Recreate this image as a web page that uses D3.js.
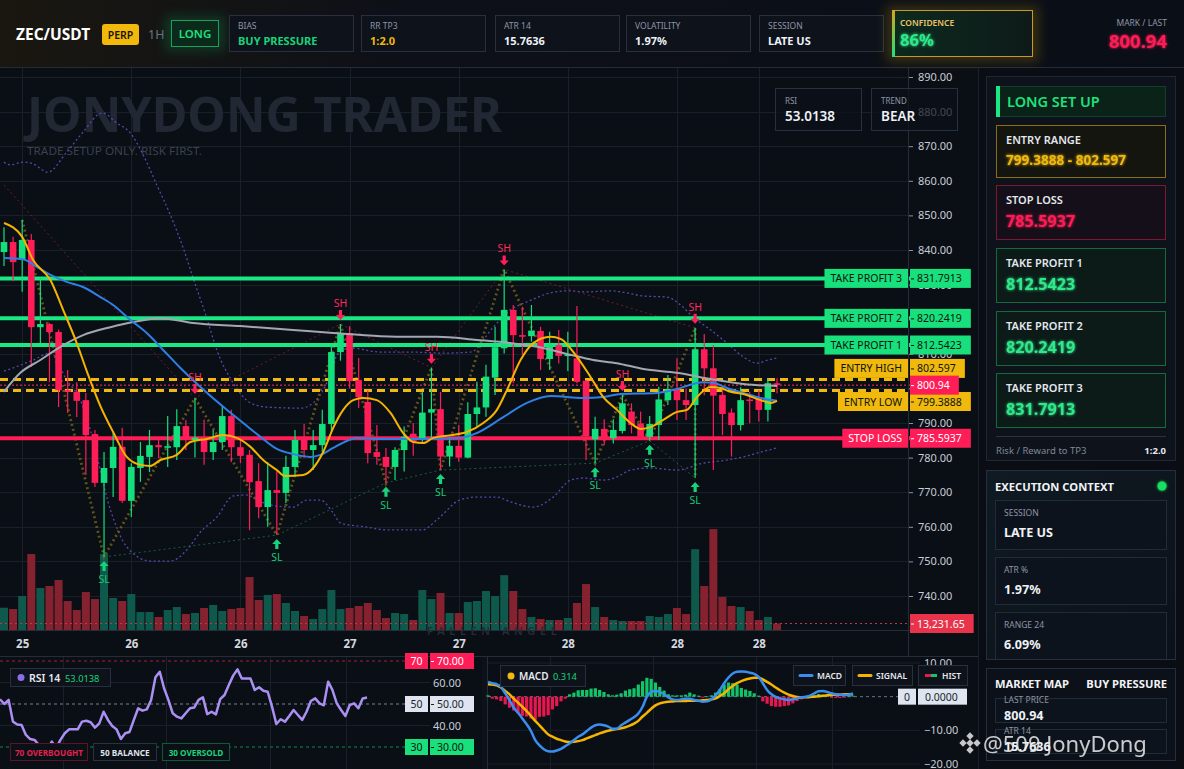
<!DOCTYPE html>
<html>
<head>
<meta charset="utf-8">
<script src="https://cdn.jsdelivr.net/npm/d3@7"></script>
<style>
  html, body { margin:0; padding:0; background:#0a0e15; overflow:hidden; }
  text { font-family: "Noto Sans", "Open Sans", sans-serif; }
</style>
</head>
<body>
<script>
// ---------------- data ----------------
// candles: open, high, low, close
var ohlc = [
  [839.4,846.6,835.4,842.3],[842.3,843.8,831.0,836.5],[837.1,848.7,827.9,842.9],[842.9,844.6,806.2,817.7],
  [817.7,832.2,813.1,818.6],[818.6,818.9,801.8,816.3],[816.3,817.0,794.6,799.5],[799.5,805.3,792.9,799.0],
  [799.0,801.8,791.7,796.4],[796.6,798.7,775.0,786.5],[786.8,788.0,771.5,772.7],[772.7,781.6,751.3,777.0],
  [777.0,787.1,768.6,783.1],[783.1,788.6,766.9,767.5],[767.5,778.4,762.8,777.3],[777.0,784.5,773.0,780.5],
  [780.2,788.0,775.8,783.6],[783.6,786.0,779.9,783.0],[783.0,792.0,777.3,783.3],[783.0,794.0,779.3,789.1],
  [789.1,790.9,782.2,785.1],[785.1,797.2,780.0,785.8],[785.8,791.0,777.9,781.6],[781.6,788.0,779.3,784.5],
  [784.5,795.2,782.2,792.0],[792.0,793.8,778.7,783.0],[783.0,786.0,778.4,780.5],[780.8,782.2,759.0,772.9],
  [773.2,778.4,762.5,765.7],[765.7,778.7,760.0,770.6],[770.6,776.4,757.6,769.8],[769.8,780.5,766.9,777.3],
  [777.3,788.0,774.6,785.1],[785.7,789.7,779.9,782.2],[782.2,788.0,776.4,783.6],[783.6,793.8,781.6,789.7],
  [789.7,813.0,787.5,810.5],[810.5,818.6,808.0,816.0],[816.0,818.0,800.0,802.1],[802.4,808.8,794.3,797.5],
  [796.1,799.5,778.4,781.3],[781.6,789.4,777.9,780.2],[780.2,782.8,772.7,777.3],[777.3,783.0,773.5,782.2],
  [782.2,789.0,776.0,786.0],[786.9,790.0,780.5,784.6],[785.6,799.0,784.1,793.0],[793.0,806.0,785.5,794.0],
  [794.0,799.0,776.4,780.3],[780.3,786.0,777.4,783.4],[783.4,789.4,778.8,780.0],[780.0,796.0,779.8,792.6],
  [792.6,801.9,788.9,794.5],[794.5,806.8,791.8,803.4],[803.1,817.8,798.1,811.9],[811.6,834.4,810.1,822.7],
  [822.7,824.1,801.5,815.4],[815.4,823.6,809.7,815.2],[815.1,824.1,813.5,816.7],[816.6,817.8,805.3,808.5],
  [808.5,816.4,805.3,812.8],[812.5,816.9,807.2,809.4],[809.4,816.4,805.0,809.8],[808.7,823.8,801.5,801.9],
  [802.2,802.4,779.3,786.2],[785.3,791.8,778.4,788.3],[788.3,791.1,783.6,785.6],[785.6,791.1,784.1,788.0],
  [787.7,798.1,787.0,795.7],[793.3,795.7,787.0,789.4],[789.9,793.3,785.1,786.0],[786.0,792.0,784.9,789.7],
  [789.4,800.5,785.1,796.8],[796.6,803.9,795.2,799.7],[799.7,808.7,790.9,796.6],[796.6,800.0,790.9,795.2],
  [795.2,817.5,774.1,811.3],[811.3,815.7,798.0,805.8],[805.8,812.5,776.4,797.9],[798.1,800.5,786.5,792.6],
  [793.0,794.2,780.3,789.4],[789.4,800.3,787.8,796.6],[796.8,799.0,789.9,796.5],[797.1,799.5,790.4,793.8],
  [793.8,802.9,790.4,801.5],[801.5,802.9,798.6,800.94]
];
// volume, thousands
var volK = [45.5,42.8,69.4,155,85.7,89.8,102,59.2,40.8,77.5,63.2,155,65.3,59.2,73.4,36.7,36.7,26.5,40.8,46.9,
  32.6,34.7,44.9,51,38.8,42.8,44.9,108,61.2,71.4,73.4,55.1,38.8,28.6,22.4,42.8,81.6,42.8,44.9,49,
  55.1,40.8,24.5,34.7,32.6,20.4,81.6,63.2,75.5,34.7,34.7,57.1,59.2,79.6,69.4,112,79.6,42.8,26.5,22.4,
  20.4,20.4,24.5,55.1,93.8,46.9,26.5,20.4,18.4,18.4,18.4,28.6,26.5,32.6,44.9,32.6,165,89.8,206,67.3,
  49,46.9,38.8,20.4,26.5,13.23165];

// overlay lines: [candle index, price]
var emaFast = [[0,847.8],[2,843.8],[3.2,837.1],[5.1,831.3],[6.5,822.7],[8,813.1],[9.1,805],[10.6,794.9],[12,787.4],
  [13.5,780.2],[15,777.9],[16.1,777.6],[17.2,779.3],[19,780.8],[20.5,784.5],[22.3,785.4],[24.1,786.5],[25.6,785.7],
  [27.1,783.1],[28.5,779.3],[30,776.4],[30.9,774.7],[32.9,775],[34,777],[35.1,781.6],[36.2,788.6],[37.3,793.8],
  [38.4,796.6],[39.5,797.2],[41,796.6],[42.5,792.9],[43.9,787.1],[45,784.5],[46.1,784.2],[47.2,785.7],[49.1,786.5],
  [50.9,787.4],[52.7,790],[54.2,793.8],[55.3,799.5],[56.8,808.2],[58.2,813.1],[60.1,814.9],[61.2,814.3],[63,809.1],
  [64.5,803.3],[65.9,797.5],[67.4,793.8],[68.9,790],[70,788.3],[71.1,788.8],[72.5,790.9],[74,793.2],[75.1,793.8],
  [76.2,797.5],[77.7,800.4],[78.8,800.1],[79.9,799],[81.3,798.4],[83.2,796.6],[84.3,795.8],[85,796.4]];
var emaSlow = [[0,837.7],[2,837.4],[3.6,835.1],[5.1,832.8],[6.9,830.8],[8.7,829.3],[10.6,826.4],[12,824.1],[13.9,819.8],
  [15.7,816],[17.5,811.1],[19.4,805.9],[21.6,800.4],[24.5,793.8],[26.3,790],[28.2,786],[30,782.5],[31.8,781],
  [33.7,780.2],[34.8,780.8],[36.2,782.8],[37.7,784.8],[38.8,785.7],[41.7,785.4],[45.8,785.4],[50.2,785.7],[52,787.1],
  [54.9,791.7],[57.5,795.8],[60.1,797.8],[63.7,797.2],[65.9,797.5],[67.8,798.4],[71.8,798.7],[74,799.8],[75.8,801.3],
  [76.9,801.8],[78,801.6],[79.5,800.1],[81.3,798.7],[83.2,797.2],[85,796.4]];
var maLong = [[0,799],[1.8,804.5],[4,808.2],[6.2,812],[8.7,815.4],[11.7,817.7],[14.2,819.2],[17.2,820.3],[20.8,818.9],
  [26,818],[31.8,816.9],[36.2,816],[41.4,815.1],[44.7,814.9],[47.6,814.9],[52,814],[55.7,813.1],[59.3,811.7],
  [62.3,809.7],[64.8,808.2],[67.4,807.3],[70.3,805.6],[74,804.5],[77.7,802.7],[81.3,801.3],[85,800.7]];
var bbUpper = [[0,865.4],[0.7,864.6],[2.1,865.4],[3.2,864.9],[4.8,862.5],[6.9,868.3],[8.7,874.1],[10.8,879.6],[12.4,876.7],
  [13.9,873.8],[15.3,867.5],[16.8,858.8],[18.3,850.1],[19.7,840.6],[20.8,831.9],[22.3,820.3],[23.4,811.1],[25.2,801.6],
  [27.1,795.8],[28.9,794.6],[32.6,794.3],[34,795.8],[35.5,801.6],[36.2,806.2],[36.6,809.7],[38.1,811.7],[41.4,810.5],
  [44.7,810.5],[48.3,810.2],[51.3,810.5],[53.8,817.7],[55.7,822.7],[57.5,825],[60.1,827.6],[61.9,828.2],[64.1,827.9],
  [66.7,828.2],[68.5,827.6],[70.3,826.7],[72.9,826.4],[74.4,824.1],[75.8,820.6],[77.7,816.9],[79.5,813.1],[81.3,809.1],
  [82.8,807.3],[84,808.2],[85,808.8]];
var bbLower = [[0,805],[1,805.9],[3.2,808.2],[5.1,810.2],[6.9,802.4],[8.4,796.6],[9.5,788],[11.7,764.9],[13.5,754.2],
  [16.1,750.1],[18.3,750.1],[20.1,753.3],[21.6,758.5],[23.4,762.8],[25.2,768.9],[26.7,769.2],[28.2,767.2],[30,766],
  [31.8,765.7],[33.3,767.7],[34.8,767.7],[36.2,764],[37,761.1],[39.9,759.9],[42.1,759.1],[46,759.1],[47.6,762],
  [50.1,767.7],[52,768.6],[54.2,768.6],[55.7,767.2],[58.2,765.7],[60.4,768.6],[62.3,773.5],[63.7,774.1],[65.9,773.5],
  [67.4,774.4],[68.9,776.4],[71.1,777],[74,776.4],[76.9,778.4],[79.5,779.3],[81.3,780.2],[83.2,781.6],[85,782.8]];

var swingHighs = [21, 37, 47, 55, 68, 76];
var swingLows = [11, 30, 42, 48, 65, 71, 76];
var zigzag = [[2,"h"],[11,"l"],[21,"h"],[30,"l"],[37,"h"],[42,"l"],[47,"h"],[48,"l"],[55,"h"],[65,"l"],[68,"h"],[71,"l"],[76,"h"],[76,"l"]];
var resistStart = [0, 858.8];

var levelNames = ["TAKE PROFIT 3","TAKE PROFIT 2","TAKE PROFIT 1","ENTRY HIGH","ENTRY LOW","STOP LOSS"];
var levelPrices = [831.7913, 820.2419, 812.5423, 802.597, 799.3888, 785.5937];
var levelText = ["831.7913","820.2419","812.5423","802.597","799.3888","785.5937"];
var lastPrice = 800.94;
var lastVolK = 13.23165;

var priceTicks = [890,880,870,860,850,840,830,820,810,800,790,780,770,760,750,740];
var timeTickIdx = [2,14,26,38,50,62,74,83];
var timeTickLabels = ["25","26","26","27","27","28","28","28"];
var subGridIdx = [14.5, 38.5, 62.5, 80.2];

var rsi = [52.2,50.0,51.9,41.8,40.5,40.2,35.6,33.7,33.3,30.9,26.7,28.9,32.5,29.4,33.3,36.4,38.2,38.2,38.2,41.8,
  42.2,41.5,39.0,41.0,46.4,42.6,39.8,38.2,33.7,36.4,37.0,42.6,48.0,46.9,47.5,51.9,62.4,65.0,57.3,51.9,
  45.7,44.1,43.3,45.7,48.0,48.4,51.9,53.1,45.3,46.4,45.2,52.3,54.2,58.8,63.2,66.1,61.9,61.9,61.9,56.5,
  57.8,56.2,55.7,48.8,40.7,42.9,41.8,44.4,47.2,44.9,42.6,46.4,51.4,52.6,50.3,49.4,60.4,56.5,50.3,47.2,
  44.4,49.5,50.3,48.0,52.6,53.0138];
var macd = [4.4,4.0,3.7,2.9,1.0,-1.0,-3.3,-4.8,-6.5,-8.2,-10.2,-12.9,-14.5,-15.6,-16.2,-16.3,-16.0,-15.5,-14.7,-13.9,
  -12.9,-11.9,-11.2,-10.2,-9.2,-8.5,-8.3,-8.5,-8.9,-9.5,-9.5,-8.5,-7.7,-6.9,-6.1,-5.0,-3.0,0.0,1.4,1.7,
  1.4,0.7,-0.2,-0.8,-1.0,-0.8,-0.6,-0.6,-1.0,-1.2,-1.5,-1.4,-0.8,0.4,2.0,4.0,5.7,6.9,7.4,7.5,
  7.4,7.1,6.8,5.9,4.0,2.0,0.7,-0.1,-0.5,-0.8,-1.0,-0.8,-0.5,-0.2,0.0,0.3,1.0,1.6,1.7,1.4,
  1.0,0.7,0.6,0.5,0.6,1.0];
var signal = [3.7,3.6,3.4,2.7,1.7,0.7,-0.6,-1.8,-3.0,-4.3,-5.7,-7.2,-8.5,-9.9,-11.2,-11.9,-12.5,-12.9,-13.3,-13.5,
  -13.4,-13.2,-12.9,-12.4,-11.9,-11.4,-10.9,-10.5,-10.1,-9.8,-9.6,-9.4,-9.1,-8.6,-8.0,-7.2,-5.9,-4.8,-3.6,-2.6,
  -2.0,-1.7,-1.5,-1.4,-1.3,-1.3,-1.3,-1.2,-1.2,-1.2,-1.1,-1.0,-0.8,-0.5,0.2,1.0,2.2,3.2,4.0,4.6,
  5.1,5.4,5.6,5.6,5.1,4.4,3.6,2.7,1.9,1.2,0.6,0.2,-0.1,-0.2,-0.2,-0.1,0.0,0.1,0.3,0.4,
  0.5,0.6,0.6,0.7,0.7,0.7];
var hist = [0.4,-0.6,-0.8,-1.3,-2.3,-3.3,-4.1,-5.0,-5.7,-5.9,-6.5,-6.9,-6.0,-5.9,-5.5,-3.8,-2.8,-1.4,-0.6,0.7,
  1.2,1.9,2.0,2.0,2.4,2.5,2.0,1.4,0.7,0.4,0.6,1.0,1.8,2.2,2.5,3.6,4.6,5.6,5.3,4.2,
  2.9,1.8,0.7,0.4,0.4,0.4,0.6,1.2,0.7,0.3,-0.3,0.1,0.4,1.2,2.2,3.6,4.2,4.0,3.6,2.6,
  2.1,1.7,1.0,0.3,-1.4,-2.1,-2.8,-3.0,-3.0,-2.8,-2.6,-2.0,-1.3,-0.8,-0.4,-0.1,0.4,0.8,0.6,0.4,
  -0.3,-0.4,-0.4,-0.3,0.1,0.3];
var rsiLast = "53.0138", macdLast = "0.314";

var hdrLabels = ["BIAS","RR TP3","ATR 14","VOLATILITY","SESSION"];
var hdrValues = ["BUY PRESSURE","1:2.0","15.7636","1.97%","LATE US"];
var setupTitles = ["ENTRY RANGE","STOP LOSS","TAKE PROFIT 1","TAKE PROFIT 2","TAKE PROFIT 3"];
var setupValues = ["799.3888 - 802.597","785.5937","812.5423","820.2419","831.7913"];
var ctxLabels = ["SESSION","ATR %","RANGE 24"];
var ctxValues = ["LATE US","1.97%","6.09%"];
var mapLabels = ["LAST PRICE","ATR 14"];
var mapValues = ["800.94","15.7636"];

// ---------------- setup ----------------
var W = 1184, H = 769;
var MONO = '"DejaVu Sans Mono", monospace';
var UP = "#13e07c", DOWN = "#ff1d58", GOLD = "#f0b90b";

var svg = d3.select("body").append("svg").attr("width", W).attr("height", H);
var defs = svg.append("defs");
function addGlow(id, dev) {
  var f = defs.append("filter").attr("id", id).attr("x", "-50%").attr("y", "-50%").attr("width", "200%").attr("height", "200%");
  f.append("feGaussianBlur").attr("stdDeviation", dev).attr("result", "b");
  var m = f.append("feMerge");
  m.append("feMergeNode").attr("in", "b");
  m.append("feMergeNode").attr("in", "SourceGraphic");
}
addGlow("glowS", 1.6);
defs.append("filter").attr("id", "blur6").attr("x", "-50%").attr("y", "-50%").attr("width", "200%").attr("height", "200%")
  .append("feGaussianBlur").attr("stdDeviation", 6);

function txt(g, x, y, s, size, fill, mono, weight) {
  var t = g.append("text").attr("x", x).attr("y", y).text(s).attr("font-size", size).attr("fill", fill);
  if (mono) t.attr("font-family", MONO);
  if (weight) t.attr("font-weight", weight);
  return t;
}

svg.append("rect").attr("width", W).attr("height", H).attr("fill", "#0a0e15");

// ---------------- header ----------------
var hg = defs.append("linearGradient").attr("id", "hdrGrad").attr("x1", 0).attr("x2", 1);
hg.append("stop").attr("offset", 0).attr("stop-color", "#1a1710");
hg.append("stop").attr("offset", 0.35).attr("stop-color", "#0d1018");
hg.append("stop").attr("offset", 1).attr("stop-color", "#0a0e16");
var hdr = svg.append("g");
hdr.append("rect").attr("width", W).attr("height", 67).attr("fill", "url(#hdrGrad)");
hdr.append("line").attr("x1", 0).attr("x2", W).attr("y1", 67.5).attr("y2", 67.5).attr("stroke", "#252c39");

txt(hdr, 16, 40, "ZEC/USDT", 15.5, "#ffffff", false, 700);
hdr.append("rect").attr("x", 102).attr("y", 24).attr("width", 37).attr("height", 21).attr("rx", 3).attr("fill", GOLD);
txt(hdr, 120.5, 38.5, "PERP", 10.5, "#1b1405", false, 600).attr("text-anchor", "middle");
txt(hdr, 148, 39, "1H", 12.5, "#6b7485");
hdr.append("rect").attr("x", 165).attr("y", 16).attr("width", 60).attr("height", 35).attr("fill", "#0f7a44").attr("opacity", 0.35).attr("filter", "url(#blur6)");
hdr.append("rect").attr("x", 171.5).attr("y", 20.5).attr("width", 47).attr("height", 26).attr("fill", "#0b2a1c").attr("stroke", "#17a35c");
txt(hdr, 195, 38, "LONG", 11.5, "#1fe07f", false, 600).attr("text-anchor", "middle");

var hdrX = [229, 361, 495, 626, 759];
var hdrColors = ["#19d27a", GOLD, "#eef1f6", "#eef1f6", "#eef1f6"];
hdrLabels.forEach(function(l, i) {
  hdr.append("rect").attr("x", hdrX[i] + 0.5).attr("y", 15.5).attr("width", 124).attr("height", 36).attr("fill", "#0d121b").attr("stroke", "#283040");
  txt(hdr, hdrX[i] + 9, 29, l, 8.5, "#8d96a6");
  txt(hdr, hdrX[i] + 9, 45, hdrValues[i], 11, hdrColors[i], true, 700);
});
// confidence card
var cg = defs.append("linearGradient").attr("id", "confGrad").attr("x1", 0).attr("x2", 1);
cg.append("stop").attr("offset", 0).attr("stop-color", "#0c2a1e");
cg.append("stop").attr("offset", 1).attr("stop-color", "#0e1a19");
var cb = defs.append("linearGradient").attr("id", "confBar").attr("x1", 0).attr("x2", 0).attr("y1", 0).attr("y2", 1);
cb.append("stop").attr("offset", 0).attr("stop-color", "#d8a516");
cb.append("stop").attr("offset", 1).attr("stop-color", "#1fe07f");
hdr.append("rect").attr("x", 886).attr("y", 6).attr("width", 153).attr("height", 56).attr("fill", "#a8840f").attr("opacity", 0.28).attr("filter", "url(#blur6)");
hdr.append("rect").attr("x", 892.5).attr("y", 10.5).attr("width", 140).attr("height", 46).attr("fill", "url(#confGrad)").attr("stroke", "#c99a1c");
hdr.append("rect").attr("x", 892).attr("y", 10).attr("width", 3).attr("height", 47).attr("fill", "url(#confBar)");
txt(hdr, 900, 26, "CONFIDENCE", 8.5, "#e9c46a", false, 600);
txt(hdr, 900, 46, "86%", 16.5, "#2ee88a", true, 700).attr("filter", "url(#glowS)");
txt(hdr, 1167, 26, "MARK / LAST", 8.5, "#8d96a6").attr("text-anchor", "end");
txt(hdr, 1167, 48, lastPrice.toFixed(2), 18.5, "#ff1e56", true, 700).attr("text-anchor", "end").attr("filter", "url(#glowS)");

// ---------------- main chart ----------------
var x = d3.scaleLinear().domain([0, 85]).range([4, 777]);
var y = d3.scaleLinear().domain([740, 890]).range([596, 77]);
var yVol = d3.scaleLinear().domain([0, 200]).range([630, 532]);
var cTop = 68, cBot = 630, cRight = 910;

defs.append("clipPath").attr("id", "mainClip").append("rect").attr("x", 0).attr("y", cTop).attr("width", cRight).attr("height", cBot - cTop);
var main = svg.append("g").attr("clip-path", "url(#mainClip)");

// grid
main.selectAll("line.hg").data(priceTicks).enter().append("line")
  .attr("x1", 0).attr("x2", cRight).attr("y1", function(d) { return Math.round(y(d)) + 0.5; }).attr("y2", function(d) { return Math.round(y(d)) + 0.5; })
  .attr("stroke", "#1a2029");
main.selectAll("line.vg").data(timeTickIdx).enter().append("line")
  .attr("x1", function(d) { return Math.round(x(d)) + 0.5; }).attr("x2", function(d) { return Math.round(x(d)) + 0.5; })
  .attr("y1", cTop).attr("y2", cBot).attr("stroke", "#1a2029");

// watermark
main.append("text").attr("x", 27).attr("y", 132).text("JONYDONG TRADER").attr("font-size", 48).attr("font-weight", 700)
  .attr("fill", "#222833").attr("textLength", 475).attr("lengthAdjust", "spacingAndGlyphs");
txt(main, 27, 155, "TRADE SETUP ONLY. RISK FIRST.", 11, "#3b424f").attr("textLength", 175).attr("lengthAdjust", "spacingAndGlyphs");

// volume
main.selectAll("rect.vol").data(volK).enter().append("rect")
  .attr("x", function(d, i) { return x(i) - 4; }).attr("width", 8)
  .attr("y", function(d) { return yVol(d); }).attr("height", function(d) { return 630 - yVol(d); })
  .attr("fill", function(d, i) { return ohlc[i][3] >= ohlc[i][0] ? "#0e584c" : "#85222f"; });
main.append("line").attr("x1", 0).attr("x2", cRight).attr("y1", yVol(lastVolK)).attr("y2", yVol(lastVolK))
  .attr("stroke", "#c8354a").attr("stroke-dasharray", "2,3");

var line = d3.line().x(function(d) { return x(d[0]); }).y(function(d) { return y(d[1]); }).curve(d3.curveMonotoneX);
var straight = d3.line().x(function(d) { return x(d[0]); }).y(function(d) { return y(d[1]); });

// bollinger bands
[bbUpper, bbLower].forEach(function(b) {
  main.append("path").attr("d", line(b)).attr("fill", "none").attr("stroke", "#5847ad").attr("stroke-width", 1.3).attr("stroke-dasharray", "2,2.5");
});

// swing structure lines
var zz = zigzag.map(function(p) { return [p[0], p[1] === "h" ? ohlc[p[0]][1] : ohlc[p[0]][2]]; });
main.append("path").attr("d", straight(zz)).attr("fill", "none").attr("stroke", "#6a5a1c").attr("stroke-width", 2.8).attr("stroke-dasharray", "2,3").attr("opacity", 0.9);
var res = [resistStart].concat(swingHighs.filter(function(i) { return i !== 68; }).map(function(i) { return [i, ohlc[i][1]]; }));
main.append("path").attr("d", straight(res)).attr("fill", "none").attr("stroke", "#6e1d38").attr("stroke-width", 1).attr("stroke-dasharray", "2,3");
var sup = swingLows.map(function(i) { return [i, ohlc[i][2]]; });
main.append("path").attr("d", straight(sup)).attr("fill", "none").attr("stroke", "#1a5e40").attr("stroke-width", 1).attr("stroke-dasharray", "2,3");

// levels
levelNames.forEach(function(n, i) {
  var ly = y(levelPrices[i]);
  var l = main.append("line").attr("x1", 0).attr("x2", cRight).attr("y1", ly).attr("y2", ly);
  if (n.indexOf("TAKE") === 0) l.attr("stroke", "#19e884").attr("stroke-width", 4);
  else if (n.indexOf("ENTRY") === 0) l.attr("stroke", GOLD).attr("stroke-width", 3).attr("stroke-dasharray", "8,5");
  else l.attr("stroke", DOWN).attr("stroke-width", 4);
});
main.append("line").attr("x1", 0).attr("x2", cRight).attr("y1", y(lastPrice)).attr("y2", y(lastPrice))
  .attr("stroke", "#ff3366").attr("stroke-width", 1).attr("stroke-dasharray", "2,2");

// candles
var cg2 = main.append("g");
cg2.selectAll("line.wick").data(ohlc).enter().append("line")
  .attr("x1", function(d, i) { return x(i); }).attr("x2", function(d, i) { return x(i); })
  .attr("y1", function(d) { return y(d[1]); }).attr("y2", function(d) { return y(d[2]); })
  .attr("stroke", function(d) { return d[3] >= d[0] ? UP : DOWN; }).attr("stroke-width", 1.2);
cg2.selectAll("rect.body").data(ohlc).enter().append("rect")
  .attr("x", function(d, i) { return x(i) - 3.3; }).attr("width", 6.6)
  .attr("y", function(d) { return y(Math.max(d[0], d[3])); })
  .attr("height", function(d) { return Math.max(1.6, Math.abs(y(d[0]) - y(d[3]))); })
  .attr("fill", function(d) { return d[3] >= d[0] ? UP : DOWN; });

// moving averages
main.append("path").attr("d", line(maLong)).attr("fill", "none").attr("stroke", "#a3a7b0").attr("stroke-width", 2);
main.append("path").attr("d", line(emaSlow)).attr("fill", "none").attr("stroke", "#2f80e6").attr("stroke-width", 2);
main.append("path").attr("d", line(emaFast)).attr("fill", "none").attr("stroke", "#f5b400").attr("stroke-width", 2);

// swing markers
swingHighs.forEach(function(i) {
  var tx = x(i), ty = y(ohlc[i][1]) - 4;
  main.append("path").attr("d", "M" + (tx - 1.6) + "," + (ty - 10) + "h3.2v5h3l-4.6,5l-4.6,-5h3z").attr("fill", "#ff1f5a");
  txt(main, tx, ty - 13, "SH", 10.5, "#ff2a5f").attr("text-anchor", "middle");
});
swingLows.forEach(function(i) {
  var tx = x(i), ty = y(ohlc[i][2]) + 4;
  main.append("path").attr("d", "M" + tx + "," + ty + "l4.6,5h-3v5h-3.2v-5h-3z").attr("fill", "#19d27a");
  txt(main, tx, ty + 22, "SL", 10.5, "#19c973").attr("text-anchor", "middle");
});

// chart frame lines
svg.append("line").attr("x1", 0).attr("x2", cRight).attr("y1", cBot + 0.5).attr("y2", cBot + 0.5).attr("stroke", "#262d3a");
svg.append("line").attr("x1", cRight - 1.5).attr("x2", cRight - 1.5).attr("y1", cTop).attr("y2", 656).attr("stroke", "#262d3a");

// price axis
var pAxis = svg.append("g").attr("transform", "translate(" + (cRight - 1) + ",0)")
  .call(d3.axisRight(y).tickValues(priceTicks).tickFormat(d3.format(".2f")).tickSize(4).tickPadding(5));
pAxis.select(".domain").remove();
pAxis.selectAll(".tick line").attr("stroke", "#8a919d");
pAxis.selectAll("text").attr("fill", "#c8ccd4").attr("font-size", 11).attr("font-family", '"Noto Sans", sans-serif');

// time axis
var tAxis = svg.append("g").attr("transform", "translate(0," + cBot + ")")
  .call(d3.axisBottom(x).tickValues(timeTickIdx).tickFormat(function(d, i) { return timeTickLabels[i]; }).tickSize(0).tickPadding(10));
tAxis.select(".domain").remove();
tAxis.selectAll("text").attr("fill", "#d4d8df").attr("font-size", 11.5).attr("font-weight", 700).attr("font-family", '"Noto Sans", sans-serif');

txt(svg, 427, 635, "FALLEN ANGEL", 11, "#262c37", false, 600).attr("letter-spacing", 4.6);

// level labels
var lab = svg.append("g");
function valueTag(cy, s, fill, color) {
  var g = lab.append("g");
  var r = g.append("rect");
  var t = txt(g, cRight + 7, cy + 4, s, 10.5, color);
  var w = t.node().getComputedTextLength();
  r.attr("x", cRight).attr("y", cy - 9.5).attr("width", w + 16).attr("height", 19).attr("fill", fill);
  g.append("line").attr("x1", cRight + 1).attr("x2", cRight + 4).attr("y1", cy + 0.5).attr("y2", cy + 0.5).attr("stroke", color);
}
levelNames.forEach(function(n, i) {
  var cy = y(levelPrices[i]);
  if (n === "ENTRY HIGH") cy -= 11;
  if (n === "ENTRY LOW") cy += 11;
  var fill = n.indexOf("TAKE") === 0 ? "#17e07c" : (n.indexOf("ENTRY") === 0 ? GOLD : DOWN);
  var color = n.indexOf("STOP") === 0 ? "#ffffff" : "#0b140e";
  var g = lab.append("g");
  var r = g.append("rect");
  var t = txt(g, cRight - 8, cy + 4, n, 10.5, color).attr("text-anchor", "end");
  var w = t.node().getComputedTextLength();
  r.attr("x", cRight - 2 - w - 12).attr("y", cy - 9.5).attr("width", w + 12).attr("height", 19).attr("fill", fill);
  valueTag(cy, levelText[i], fill, color);
});
valueTag(y(lastPrice), lastPrice.toFixed(2), DOWN, "#ffffff");
valueTag(yVol(lastVolK), d3.format(",.2f")(lastVolK * 1000), "#e8334a", "#ffffff");

// RSI / TREND boxes
[["RSI", rsiLast, 775], ["TREND", "BEAR", 871]].forEach(function(b) {
  svg.append("rect").attr("x", b[2] + 0.5).attr("y", 88.5).attr("width", 86).attr("height", 42).attr("fill", "#0c1119").attr("fill-opacity", 0.72).attr("stroke", "#283040");
  txt(svg, b[2] + 10, 104, b[0], 8, "#8d96a6");
  txt(svg, b[2] + 10, 121, b[1], 13.5, "#eef1f6", false, 600);
});

// ---------------- RSI panel ----------------
var xr = d3.scaleLinear().domain([0, 85]).range([0, 367]);
var yr = d3.scaleLinear().domain([30, 70]).range([747, 661]);
var rp = svg.append("g");
rp.append("line").attr("x1", 0).attr("x2", 978).attr("y1", 656.5).attr("y2", 656.5).attr("stroke", "#262d3a");
rp.selectAll("line.rv").data(subGridIdx).enter().append("line")
  .attr("x1", function(d) { return Math.round(xr(d)) + 0.5; }).attr("x2", function(d) { return Math.round(xr(d)) + 0.5; })
  .attr("y1", 657).attr("y2", H).attr("stroke", "#1a2029");
[60, 40].forEach(function(v) {
  rp.append("line").attr("x1", 0).attr("x2", 430).attr("y1", yr(v)).attr("y2", yr(v)).attr("stroke", "#1a2029");
});
rp.append("line").attr("x1", 0).attr("x2", 405).attr("y1", yr(70)).attr("y2", yr(70)).attr("stroke", "#a81c3d").attr("stroke-dasharray", "3,3");
rp.append("line").attr("x1", 0).attr("x2", 405).attr("y1", yr(50)).attr("y2", yr(50)).attr("stroke", "#7b818c").attr("stroke-dasharray", "3,3");
rp.append("line").attr("x1", 0).attr("x2", 405).attr("y1", yr(30)).attr("y2", yr(30)).attr("stroke", "#138a4d").attr("stroke-dasharray", "3,3");
rp.append("path").datum(rsi).attr("d", d3.line().x(function(d, i) { return xr(i); }).y(function(d) { return yr(d); }))
  .attr("fill", "none").attr("stroke", "#ab90f4").attr("stroke-width", 2.5).attr("stroke-linejoin", "round");
var rAxis = rp.append("g").attr("transform", "translate(429,0)")
  .call(d3.axisRight(yr).tickValues([60, 40]).tickFormat(d3.format(".2f")).tickSize(0).tickPadding(4));
rAxis.select(".domain").remove();
rAxis.selectAll("text").attr("fill", "#c8ccd4").attr("font-size", 11).attr("font-family", '"Noto Sans", sans-serif');
[[70, DOWN, "#ffffff"], [50, "#dfe5f0", "#1a1f28"], [30, "#19e07c", "#0b140e"]].forEach(function(r) {
  var cy = yr(r[0]);
  rp.append("rect").attr("x", 405).attr("y", cy - 8).attr("width", 23).attr("height", 16).attr("fill", r[1]);
  txt(rp, 416.5, cy + 4, String(r[0]), 10.5, r[2]).attr("text-anchor", "middle");
  rp.append("rect").attr("x", 430).attr("y", cy - 8).attr("width", 44).attr("height", 16).attr("fill", r[1]);
  rp.append("line").attr("x1", 431).attr("x2", 434).attr("y1", cy + 0.5).attr("y2", cy + 0.5).attr("stroke", r[2]);
  txt(rp, 437, cy + 4, r[0].toFixed(2), 10.5, r[2]);
});
rp.append("rect").attr("x", 10.5).attr("y", 668.5).attr("width", 100).attr("height", 18).attr("fill", "#0d121b").attr("stroke", "#283040");
rp.append("circle").attr("cx", 21).attr("cy", 677.5).attr("r", 3.5).attr("fill", "#8a6ee8");
txt(rp, 29, 681.5, "RSI 14", 10.5, "#e6e9ef", false, 600);
txt(rp, 65, 681.5, rsiLast, 9.3, "#19d27a", true);
[["70 OVERBOUGHT", 10, 77, "#5a1428", "#e0224f"], ["50 BALANCE", 93, 63, "#2a3140", "#dfe3ea"], ["30 OVERSOLD", 162, 67, "#0f5a36", "#19d27a"]].forEach(function(t) {
  rp.append("rect").attr("x", t[1] + 0.5).attr("y", 743.5).attr("width", t[2]).attr("height", 17).attr("fill", "#0b0f16").attr("stroke", t[3]);
  txt(rp, t[1] + t[2] / 2 + 0.5, 755.5, t[0], 8.2, t[4], true, 700).attr("text-anchor", "middle");
});

// ---------------- MACD panel ----------------
var xm = d3.scaleLinear().domain([0, 85]).range([488, 853]);
var ym = d3.scaleLinear().domain([-20, 10]).range([764, 663]);
var mp = svg.append("g");
mp.append("rect").attr("x", 482).attr("y", 657).attr("width", 5).attr("height", H - 657).attr("fill", "#0d1119");
mp.append("line").attr("x1", 487.5).attr("x2", 487.5).attr("y1", 657).attr("y2", H).attr("stroke", "#262d3a");
mp.selectAll("line.mv").data(subGridIdx).enter().append("line")
  .attr("x1", function(d) { return Math.round(xm(d)) + 0.5; }).attr("x2", function(d) { return Math.round(xm(d)) + 0.5; })
  .attr("y1", 657).attr("y2", H).attr("stroke", "#1a2029");
[10, -10, -20].forEach(function(v) {
  mp.append("line").attr("x1", 488).attr("x2", 920).attr("y1", ym(v)).attr("y2", ym(v)).attr("stroke", "#1a2029");
});
mp.append("line").attr("x1", 488).attr("x2", 898).attr("y1", ym(0)).attr("y2", ym(0)).attr("stroke", "#6b7280").attr("stroke-dasharray", "3,3");
mp.selectAll("rect.h").data(hist).enter().append("rect")
  .attr("x", function(d, i) { return xm(i) - 1.6; }).attr("width", 3.2)
  .attr("y", function(d) { return ym(Math.max(0, d)); }).attr("height", function(d) { return Math.max(0.8, Math.abs(ym(d) - ym(0))); })
  .attr("fill", function(d) { return d >= 0 ? "#12c46a" : "#e8174f"; });
var ml = d3.line().x(function(d, i) { return xm(i); }).y(function(d) { return ym(d); }).curve(d3.curveMonotoneX);
mp.append("path").attr("d", ml(signal)).attr("fill", "none").attr("stroke", "#f5b400").attr("stroke-width", 2.5);
mp.append("path").attr("d", ml(macd)).attr("fill", "none").attr("stroke", "#3a8ef0").attr("stroke-width", 2.5);
var mAxis = mp.append("g").attr("transform", "translate(921,0)")
  .call(d3.axisRight(ym).tickValues([10, -10, -20]).tickFormat(d3.format(".2f")).tickSize(0).tickPadding(3));
mAxis.select(".domain").remove();
mAxis.selectAll("text").attr("fill", "#c8ccd4").attr("font-size", 11).attr("font-family", '"Noto Sans", sans-serif');
mp.append("rect").attr("x", 898).attr("y", ym(0) - 8).attr("width", 18).attr("height", 16).attr("fill", "#dfe5f0");
txt(mp, 907, ym(0) + 4, "0", 10.5, "#1a1f28").attr("text-anchor", "middle");
mp.append("rect").attr("x", 918).attr("y", ym(0) - 8).attr("width", 49).attr("height", 16).attr("fill", "#dfe5f0");
txt(mp, 925, ym(0) + 4, "0.0000", 10.5, "#1a1f28");
mp.append("rect").attr("x", 500.5).attr("y", 665.5).attr("width", 85).attr("height", 21).attr("fill", "#0d121b").attr("stroke", "#283040");
mp.append("circle").attr("cx", 511).attr("cy", 676).attr("r", 3.5).attr("fill", "#f0b90b");
txt(mp, 519, 680, "MACD", 10, "#e6e9ef", false, 600);
txt(mp, 553, 680, macdLast, 9.3, "#19d27a", true);
[["MACD", 793, 52, "#3a8ef0"], ["SIGNAL", 852, 60, "#f5b400"], ["HIST", 918, 49, null]].forEach(function(l) {
  mp.append("rect").attr("x", l[1] + 0.5).attr("y", 665.5).attr("width", l[2]).attr("height", 20).attr("fill", "#0d121b").attr("stroke", "#283040");
  if (l[3]) mp.append("line").attr("x1", l[1] + 7).attr("x2", l[1] + 19).attr("y1", 675.5).attr("y2", 675.5).attr("stroke", l[3]).attr("stroke-width", 3).attr("stroke-linecap", "round");
  else {
    mp.append("line").attr("x1", l[1] + 7).attr("x2", l[1] + 13).attr("y1", 675.5).attr("y2", 675.5).attr("stroke", "#e8174f").attr("stroke-width", 3);
    mp.append("line").attr("x1", l[1] + 13).attr("x2", l[1] + 19).attr("y1", 675.5).attr("y2", 675.5).attr("stroke", "#12c46a").attr("stroke-width", 3);
  }
  txt(mp, l[1] + 24, 679, l[0], 8.5, "#e6e9ef", false, 600);
});

// ---------------- right column ----------------
var rc = svg.append("g");
rc.append("rect").attr("x", 978).attr("y", 68).attr("width", W - 978).attr("height", H - 68).attr("fill", "#0a0d14");
rc.append("line").attr("x1", 978.5).attr("x2", 978.5).attr("y1", 68).attr("y2", H).attr("stroke", "#1a202b");
rc.append("rect").attr("x", 986.5).attr("y", 76.5).attr("width", 189).attr("height", 384).attr("fill", "#0d121b").attr("stroke", "#1f2734");
rc.append("rect").attr("x", 996.5).attr("y", 86.5).attr("width", 169).attr("height", 30).attr("fill", "#0b2219").attr("stroke", "#10402c");
rc.append("rect").attr("x", 996).attr("y", 86).attr("width", 4).attr("height", 31).attr("fill", "#19e884");
txt(rc, 1007, 107, "LONG SET UP", 14.5, "#1fe07f", false, 600);
var cardY = [125, 185, 248, 311, 373], cardH = [52, 54, 54, 54, 54];
var cardStroke = ["#8d6d12", "#7d1834", "#116b3f", "#116b3f", "#116b3f"];
var cardFill = ["#15150f", "#140f18", "#0c1a18", "#0c1a18", "#0c1a18"];
var cardColor = [GOLD, "#ff1e56", "#2ee88a", "#2ee88a", "#2ee88a"];
setupTitles.forEach(function(t, i) {
  rc.append("rect").attr("x", 996.5).attr("y", cardY[i] + 0.5).attr("width", 169).attr("height", cardH[i]).attr("fill", cardFill[i]).attr("stroke", cardStroke[i]);
  txt(rc, 1006, cardY[i] + 19, t, 11, "#e3e7ee", false, 600);
  txt(rc, 1006, cardY[i] + (i === 0 ? 40 : 42), setupValues[i], i === 0 ? 13.6 : 16.2, cardColor[i], true, 700).attr("filter", "url(#glowS)");
});
rc.append("line").attr("x1", 996).attr("x2", 1166).attr("y1", 436.5).attr("y2", 436.5).attr("stroke", "#2a3342");
txt(rc, 996, 454, "Risk / Reward to TP3", 9.5, "#7f8897");
txt(rc, 1166, 454, "1:2.0", 9.5, "#e6e9ef", true, 700).attr("text-anchor", "end");

var eg = defs.append("linearGradient").attr("id", "ctxGrad").attr("x1", 0).attr("x2", 1).attr("y1", 0).attr("y2", 1);
eg.append("stop").attr("offset", 0).attr("stop-color", "#0f1a22");
eg.append("stop").attr("offset", 1).attr("stop-color", "#0c1119");
rc.append("rect").attr("x", 986.5).attr("y", 470.5).attr("width", 189).attr("height", 189).attr("fill", "url(#ctxGrad)").attr("stroke", "#223042");
txt(rc, 995, 491, "EXECUTION CONTEXT", 11.2, "#f1f3f7", false, 700);
rc.append("circle").attr("cx", 1162).attr("cy", 486).attr("r", 4.5).attr("fill", "#19e05f").attr("filter", "url(#glowS)");
var ctxY = [500, 557, 612], ctxH = [49, 47, 47];
ctxLabels.forEach(function(l, i) {
  rc.append("rect").attr("x", 995.5).attr("y", ctxY[i] + 0.5).attr("width", 171).attr("height", ctxH[i]).attr("fill", "#0d131c").attr("stroke", "#222b38");
  txt(rc, 1004, ctxY[i] + 16, l, 8.5, "#8d96a6");
  txt(rc, 1004, ctxY[i] + 37, ctxValues[i], 12.6, "#eef1f6", true, 700);
});
rc.append("rect").attr("x", 986).attr("y", 660).attr("width", 191).attr("height", 8).attr("fill", "#0a0d14");
rc.append("line").attr("x1", 986).attr("x2", 1176).attr("y1", 659.5).attr("y2", 659.5).attr("stroke", "#223042");

rc.append("rect").attr("x", 986.5).attr("y", 668.5).attr("width", 189).attr("height", 92).attr("fill", "#0c1119").attr("stroke", "#223042");
txt(rc, 995, 688, "MARKET MAP", 11.2, "#f1f3f7", false, 700);
txt(rc, 1167, 688, "BUY PRESSURE", 11.2, "#f1f3f7", false, 700).attr("text-anchor", "end");
var mapY = [698, 729];
mapLabels.forEach(function(l, i) {
  rc.append("rect").attr("x", 995.5).attr("y", mapY[i] + 0.5).attr("width", 171).attr("height", 24).attr("fill", "#0d131c").attr("stroke", "#222b38");
  txt(rc, 1004, mapY[i] + 5, l, 8.5, "#8d96a6");
  txt(rc, 1004, mapY[i] + 22, mapValues[i], 12.6, "#eef1f6", true, 700);
});

// screenshot watermark
var wm = svg.append("g").attr("opacity", 0.85);
[[0, -7], [-7, 0], [7, 0], [0, 7], [0, 0]].forEach(function(p) {
  wm.append("rect").attr("x", -2.6).attr("y", -2.6).attr("width", 5.2).attr("height", 5.2)
    .attr("transform", "translate(" + (970 + p[0]) + "," + (743 + p[1]) + ") rotate(45)").attr("fill", "#e8e8e8");
});
txt(wm, 983, 752, "@509 JonyDong", 22, "#ececec");
</script>
</body>
</html>
